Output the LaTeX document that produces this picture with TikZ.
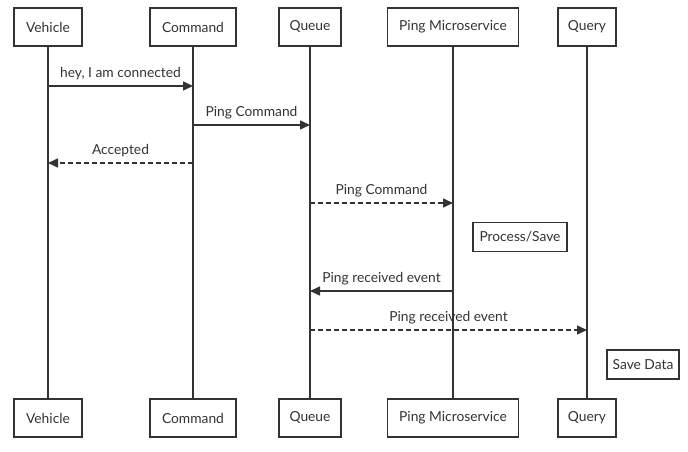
\documentclass[tikz,border=0pt]{standalone}
\usepackage{fontspec}
\setmainfont{Lato}
\usetikzlibrary{arrows.meta}
\definecolor{ink}{HTML}{333333}
\begin{document}
\begin{tikzpicture}[x=1pt,y=1pt,
  actor/.style={draw=ink,line width=1.5pt,fill=white,text=ink,minimum height=38pt,inner sep=0pt,font=\fontsize{13.8}{16}\selectfont},
  notebox/.style={draw=ink,line width=1.5pt,fill=white,text=ink,minimum height=29pt,inner sep=0pt,font=\fontsize{13.8}{16}\selectfont},
  life/.style={draw=ink,line width=1.5pt},
  msg/.style={draw=ink,line width=1.5pt,-{Triangle[length=10pt,width=9pt]}},
  reply/.style={msg,dash pattern=on 5pt off 3pt},
  lbl/.style={text=ink,font=\fontsize{13.8}{16}\selectfont,inner sep=0pt,anchor=base}]
\useasboundingbox (0,0) rectangle (688,-452);
% top actors
\node[actor,minimum width=68pt] (vt) at (48,-27) {Vehicle};
\node[actor,minimum width=86pt] (ct) at (193,-27) {Command};
\node[actor,minimum width=62pt] (qt) at (310,-27) {Queue};
\node[actor,minimum width=131pt] (pt) at (453,-27) {Ping Microservice};
\node[actor,minimum width=58pt] (yt) at (587,-27) {Query};
% bottom actors
\node[actor,minimum width=68pt] (vb) at (48,-418) {Vehicle};
\node[actor,minimum width=86pt] (cb) at (193,-418) {Command};
\node[actor,minimum width=62pt] (qb) at (310,-418) {Queue};
\node[actor,minimum width=131pt] (pb) at (453,-418) {Ping Microservice};
\node[actor,minimum width=58pt] (yb) at (587,-418) {Query};
% lifelines
\draw[life] (vt) -- (vb);
\draw[life] (ct) -- (cb);
\draw[life] (qt) -- (qb);
\draw[life] (pt) -- (pb);
\draw[life] (yt) -- (yb);
% message rows
\coordinate (m1) at (0,-86);
\coordinate (m2) at (0,-125);
\coordinate (m3) at (0,-163);
\coordinate (m4) at (0,-203);
\coordinate (m6) at (0,-291);
\coordinate (m7) at (0,-330);
\draw[msg] (vt |- m1) -- node[lbl,above=5pt] {hey, I am connected} (ct |- m1);
\draw[msg] (ct |- m2) -- node[lbl,above=5pt] {Ping Command} (qt |- m2);
\draw[reply] (ct |- m3) -- node[lbl,above=5pt] {Accepted} (vt |- m3);
\draw[reply] (qt |- m4) -- node[lbl,above=5pt] {Ping Command} (pt |- m4);
\draw[msg] (pt |- m6) -- node[lbl,above=5pt] {Ping received event} (qt |- m6);
\draw[reply] (qt |- m7) -- node[lbl,above=5pt] {Ping received event} (yt |- m7);
% notes
\node[notebox,minimum width=94pt] (ps) at (520,-237) {Process/Save};
\node[notebox,minimum width=72pt] (sd) at (643,-364.5) {Save Data};
\end{tikzpicture}
\end{document}
